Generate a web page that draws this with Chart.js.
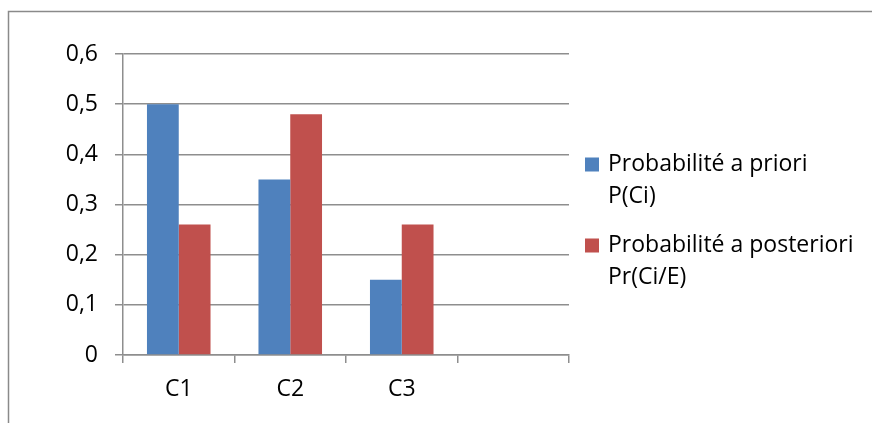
<!DOCTYPE html>
<html>
<head>
<meta charset="utf-8">
<script src="https://cdn.jsdelivr.net/npm/chart.js@4/dist/chart.umd.min.js"></script>
<style>
  html, body { margin: 0; padding: 0; background: #fff; }
  #wrap { width: 872px; height: 423px; position: relative; }
</style>
</head>
<body>
<div id="wrap"><canvas id="c" width="872" height="423"></canvas></div>
<script>
// Categories (the fourth slot is left empty on purpose)
const categories = ['C1', 'C2', 'C3', ''];

// Series values
const prioriValues = [0.5, 0.35, 0.15, null];
const posterioriValues = [0.26, 0.48, 0.26, null];

// Series names, split over two lines in the legend
const prioriName = ['Probabilité a priori', 'P(Ci)'];
const posterioriName = ['Probabilité a posteriori', 'Pr(Ci/E)'];

// Y tick values
const yTicks = [0, 0.1, 0.2, 0.3, 0.4, 0.5, 0.6];

const FONT = '"Open Sans", Lato, sans-serif';
const FONT_SIZE = 23;
const GRID = '#8e8e8e';
const colors = ['#4F81BD', '#C0504D'];

function frLabel(v) {
  if (v === 0) return '0';
  return v.toFixed(1).replace('.', ',');
}

// Outer frame and two-line legend
const framePlugin = {
  id: 'frame',
  beforeDraw(chart) {
    const ctx = chart.ctx;
    ctx.save();
    ctx.fillStyle = '#fff';
    ctx.fillRect(0, 0, chart.width, chart.height);
    ctx.strokeStyle = '#8a8a8a';
    ctx.lineWidth = 1.5;
    ctx.beginPath();
    ctx.moveTo(8.5, chart.height + 2);
    ctx.lineTo(8.5, 11.5);
    ctx.lineTo(chart.width + 2, 11.5);
    ctx.stroke();
    ctx.restore();
  },
  afterDraw(chart) {
    const ctx = chart.ctx;
    const items = [prioriName, posterioriName];
    const baselines = [170.5, 251.5];
    ctx.save();
    ctx.font = FONT_SIZE + 'px ' + FONT;
    ctx.textBaseline = 'alphabetic';
    ctx.textAlign = 'left';
    items.forEach((lines, i) => {
      const b = baselines[i];
      ctx.fillStyle = chart.data.datasets[i].backgroundColor;
      ctx.fillRect(585, b - 13, 14, 14);
      ctx.fillStyle = '#000';
      lines.forEach((t, j) => ctx.fillText(t, 608, b + j * 32.5));
    });
    ctx.restore();
  }
};

new Chart(document.getElementById('c'), {
  type: 'bar',
  data: {
    labels: categories,
    datasets: [
      { label: prioriName.join(' '), data: prioriValues, backgroundColor: colors[0] },
      { label: posterioriName.join(' '), data: posterioriValues, backgroundColor: colors[1] }
    ]
  },
  options: {
    responsive: false,
    animation: false,
    devicePixelRatio: 1,
    layout: { padding: { left: 0, top: 54, right: 303, bottom: 0 } },
    categoryPercentage: 0.57,
    barPercentage: 1,
    plugins: {
      legend: { display: false },
      tooltip: { enabled: false }
    },
    scales: {
      x: {
        grid: {
          offset: true,
          drawOnChartArea: false,
          drawTicks: true,
          tickLength: 8,
          color: GRID,
          lineWidth: 1.5
        },
        border: { color: GRID, width: 1.5 },
        ticks: {
          color: '#000',
          font: { family: FONT, size: FONT_SIZE },
          padding: 13,
          maxRotation: 0
        },
        afterFit(s) { s.height = 68; }
      },
      y: {
        min: 0,
        max: 0.6,
        afterBuildTicks(s) { s.ticks = yTicks.map(v => ({ value: v })); },
        grid: {
          color: GRID,
          lineWidth: 1.5,
          tickLength: 8
        },
        border: { color: GRID, width: 1.5 },
        ticks: {
          color: '#000',
          font: { family: FONT, size: FONT_SIZE },
          padding: 17,
          callback: (v) => frLabel(v)
        },
        afterFit(s) { s.width = 123; }
      }
    }
  },
  plugins: [framePlugin]
});
</script>
</body>
</html>
